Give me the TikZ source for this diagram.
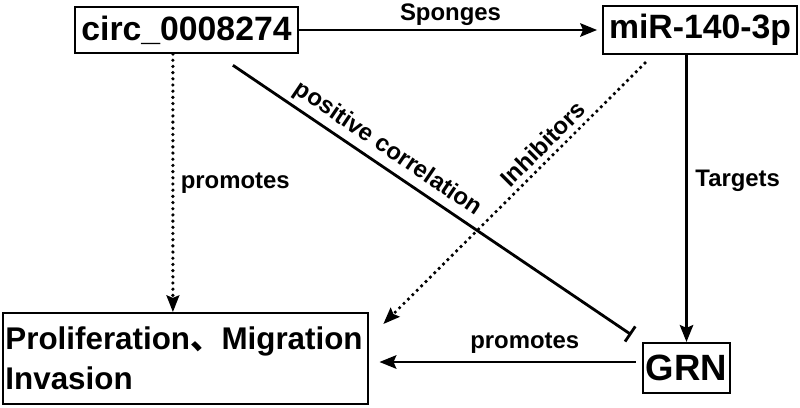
\documentclass[tikz,border=0pt]{standalone}
\usepackage{fontspec}
\setmainfont{Liberation Sans}
\newfontfamily\cjkfont{Noto Sans CJK SC}
\usetikzlibrary{arrows.meta, positioning}

\begin{document}
\begin{tikzpicture}[
  x=0.025cm, y=-0.025cm,
  gene/.style={draw, line width=1.5pt, inner sep=0pt,
               font=\fontsize{24}{28}\selectfont\bfseries},
  outcome/.style={draw, line width=1.5pt, inner sep=2pt, align=left,
                  text width=9cm, font=\fontsize{22.3}{28.5}\selectfont\bfseries},
  arrow/.style={-{Stealth[length=12pt, width=9.5pt, inset=2pt]}, line width=2pt},
  dotarrow/.style={-{Stealth[length=12pt, width=9.5pt, inset=2pt, line width=0pt]},
                   line width=2.6pt, line cap=round, dash pattern=on 0pt off 4.4pt},
  inhibit/.style={-{Bar[width=13pt, line width=2pt]}, line width=2pt},
  lbl/.style={font=\fontsize{17}{20}\selectfont\bfseries}
]
\useasboundingbox (0,0) rectangle (800,407);

% Molecules
\node[gene, minimum width=5.575cm, minimum height=1.15cm] (circ) at (186.5,30) {circ\_0008274};
\node[gene, minimum width=4.85cm, minimum height=1.2cm] (mir) at (700,30) {miR-140-3p};
\node[gene, minimum width=2.175cm, minimum height=1.25cm,
      font=\fontsize{26}{30}\selectfont\bfseries] (grn) at (686.5,368) {GRN};

% Phenotype
\node[outcome, minimum height=2.275cm] (prolif) at (185.5,358.5)
  {Proliferation{\cjkfont 、}Migration\\Invasion};

% Regulation
\draw[arrow, shorten >=0.12cm] (circ) -- (mir)
  node[lbl, midway, above=-1pt] {Sponges};
\draw[arrow] (grn.north |- mir.south) -- (grn.north)
  node[lbl, pos=0.44, right=2pt] {Targets};
\draw[dotarrow] ([xshift=-0.34cm]circ.south) -- ([xshift=-0.34cm]circ.south |- prolif.north)
  node[lbl, midway, right=1pt] {promotes};
\draw[arrow, shorten <=0.15cm, shorten >=0.25cm] ([yshift=0.15cm]grn.west) -- ([yshift=0.15cm]grn.west -| prolif.east)
  node[lbl, pos=0.43, above=2pt] {promotes};
\draw[inhibit, shorten >=0.32cm] ([xshift=1.16cm,yshift=-0.28cm]circ.south) -- (grn.north west)
  node[lbl, sloped, above, pos=0.355] {positive correlation};
\draw[dotarrow] ([xshift=-1.375cm,yshift=-0.2cm]mir.south) -- ([xshift=0.35cm,yshift=-0.3cm]prolif.north east)
  node[lbl, sloped, above, pos=0.35] {Inhibitors};

\end{tikzpicture}
\end{document}
